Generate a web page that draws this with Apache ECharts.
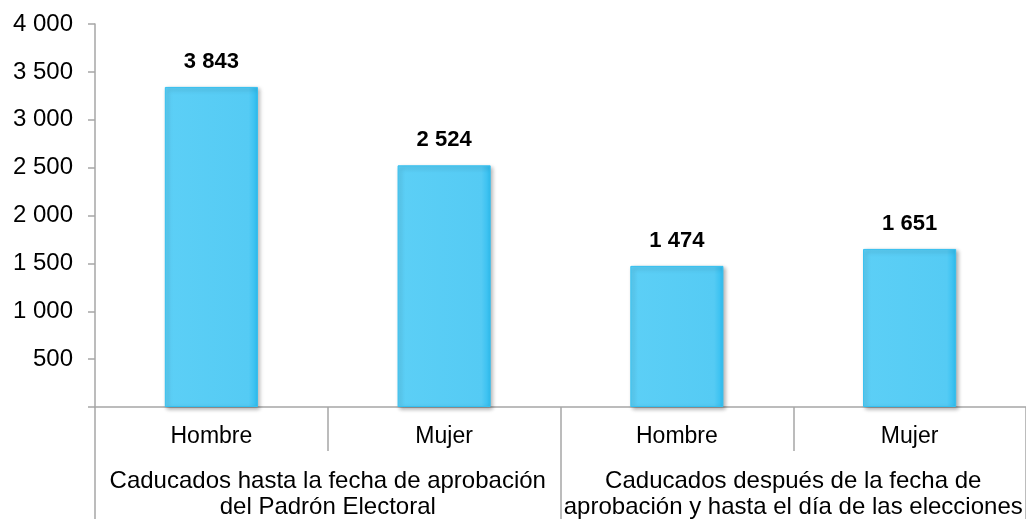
<!DOCTYPE html>
<html>
<head>
<meta charset="utf-8">
<script src="https://cdn.jsdelivr.net/npm/echarts@6/dist/echarts.min.js"></script>
<style>
  html, body { margin: 0; padding: 0; background: #fff; }
  #chart { width: 1026px; height: 520px; }
</style>
</head>
<body>
<div id="chart"></div>
<script>
// categorías (sexo) y grupos
const sexos = ['Hombre', 'Mujer', 'Hombre', 'Mujer']
const grupos = [
  'Caducados hasta la fecha de aprobación\ndel Padrón Electoral',
  'Caducados después de la fecha de\naprobación y hasta el día de las elecciones'
]
// altura de las barras
const valores = [3343, 2524, 1474, 1651]
// etiquetas tal como aparecen en el original
const etiquetas = ['3 843', '2 524', '1 474', '1 651']

const fuente = 'Liberation Sans, Arial, sans-serif'
const gris = '#a6a6a6'

const chart = echarts.init(document.getElementById('chart'))

const option = {
  animation: false,
  grid: { left: 95, right: 0, top: 24, bottom: 112 },
  xAxis: [
    {
      type: 'category',
      data: sexos,
      axisLine: { lineStyle: { color: gris, width: 1.5 } },
      axisTick: { show: true, interval: 0, length: 44, lineStyle: { color: gris, width: 1.5 } },
      axisLabel: { color: '#000', fontFamily: fuente, fontSize: 23, margin: 18 }
    },
    {
      type: 'category',
      data: grupos,
      position: 'bottom',
      axisLine: { show: false },
      axisTick: { show: true, interval: 0, length: 112, lineStyle: { color: gris, width: 1.5 } },
      axisLabel: { color: '#000', fontFamily: fuente, fontSize: 24, lineHeight: 26, margin: 61, interval: 0 }
    }
  ],
  yAxis: {
    type: 'value',
    min: 0,
    max: 4000,
    interval: 500,
    splitLine: { show: false },
    axisLine: { show: true, lineStyle: { color: gris, width: 1.5 } },
    axisTick: { show: true, length: 7, lineStyle: { color: gris, width: 1.5 } },
    axisLabel: {
      color: '#000',
      fontFamily: fuente,
      fontSize: 24,
      margin: 22,
      formatter: v => v === 0 ? '' : String(v).replace(/\B(?=(\d{3})+(?!\d))/g, ' ')
    }
  },
  series: [
    {
      type: 'bar',
      data: valores,
      barWidth: '40%',
      itemStyle: {
        color: new echarts.graphic.LinearGradient(0, 0, 1, 0, [
          { offset: 0, color: '#5ccff6' },
          { offset: 0.9, color: '#55cbf4' },
          { offset: 1, color: '#2fbdf0' }
        ]),
        borderColor: '#35c0f0',
        borderWidth: 1,
        shadowColor: 'rgba(0,0,0,0.3)',
        shadowBlur: 4,
        shadowOffsetX: 2,
        shadowOffsetY: 2
      },
      label: {
        show: true,
        position: 'top',
        distance: 14,
        color: '#000',
        fontFamily: fuente,
        fontWeight: 'bold',
        fontSize: 22,
        formatter: p => etiquetas[p.dataIndex]
      }
    }
  ]
}

chart.setOption(option)
</script>
</body>
</html>
